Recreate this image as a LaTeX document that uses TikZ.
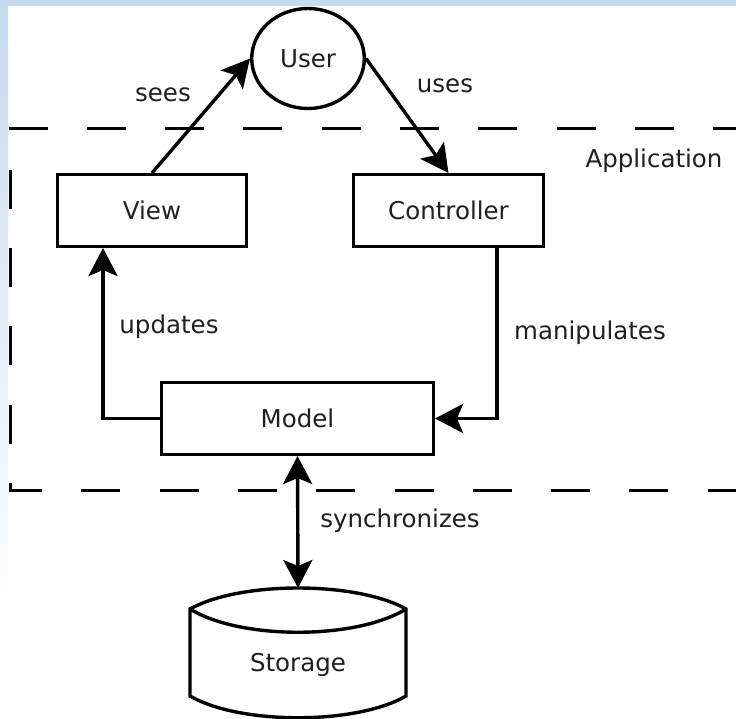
\documentclass[tikz,border=0pt]{standalone}
\usepackage{fontspec}
\setmainfont{DejaVu Sans}
\usetikzlibrary{arrows.meta,shapes.geometric}
\definecolor{bgblue}{RGB}{196,218,238}
\begin{document}
\begin{tikzpicture}[x=1pt,y=-1pt,
  txt/.style={font=\fontsize{24.5}{29}\selectfont, text=black!88},
  box/.style={draw, line width=3.4pt, rectangle, minimum height=71.6pt, inner sep=0pt, txt},
  lbl/.style={inner sep=0pt, txt},
  conn/.style={line width=3.4pt, -{Stealth[length=28pt,width=29pt,inset=6pt]}},
  bound/.style={line width=3.4pt, dash pattern=on 39pt off 39.3pt, dash phase=12.2pt},
]
\useasboundingbox (0,0) rectangle (736,719);
\fill[white] (0,0) rectangle (736,719);
\shade[top color=bgblue, bottom color=white] (0,0) rectangle (8,620);
\fill[bgblue] (0,0) rectangle (736,6);

% application boundary
\draw[bound] (740,128.5) -- (10.5,128.5) -- (10.5,490.5) -- (740,490.5);

% nodes
\node[ellipse, draw, line width=3.4pt, minimum width=112.6pt, minimum height=100pt, inner sep=0pt, txt] (user) at (308,58.5) {User};
\node[box, minimum width=188.6pt] (view) at (152,210.5) {View};
\node[box, minimum width=189.6pt] (controller) at (448.5,210.5) {Controller};
\node[box, minimum width=271.6pt] (model) at (297.5,418.5) {Model};

% storage drum
\draw[line width=3.4pt, line join=miter]
  (190,609) .. controls (240,581) and (356,581) .. (406,609)
  -- (406,696) .. controls (356,725) and (240,725) .. (190,696) -- cycle;
\draw[line width=3.4pt] (190,609) .. controls (240,640) and (356,640) .. (406,609);
\node[lbl] (storage) at (298,665) {Storage};
\coordinate (sttop) at (298,588);

% labels
\node[lbl] (sees) at (163,95) {sees};
\node[lbl] (uses) at (445,86) {uses};
\node[lbl] (app) at (654,161) {Application};
\node[lbl] (updates) at (169,327) {updates};
\node[lbl] (manip) at (590,333) {manipulates};
\node[lbl] (sync) at (400,521) {synchronizes};

% connectors
\draw[conn] (view.north) -- (user.west);
\draw[conn] (user.east) -- (controller.north);
\draw[conn] ([xshift=48.5pt]controller.south) |- (model.east);
\draw[conn] (model.west) -| ([xshift=-49pt]view.south);
\draw[line width=3.4pt, {Stealth[length=28pt,width=29pt,inset=6pt]}-{Stealth[length=28pt,width=29pt,inset=6pt]}] (model.south) -- (sttop);
\end{tikzpicture}
\end{document}
